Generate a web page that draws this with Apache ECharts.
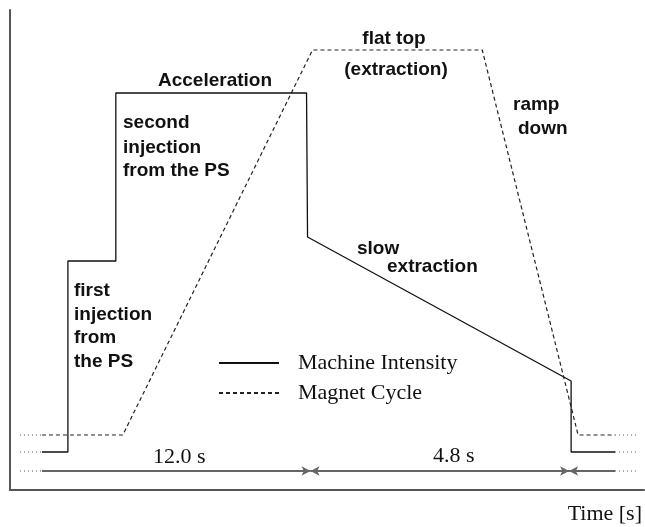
<!DOCTYPE html>
<html>
<head>
<meta charset="utf-8">
<title>SPS cycle</title>
<script src="https://cdn.jsdelivr.net/npm/echarts/dist/echarts.min.js"></script>
<style>
  html, body { margin: 0; padding: 0; background: #fff; }
  #main { width: 645px; height: 527px; }
</style>
</head>
<body>
<div id="main"></div>
<script>
// schematic units, x = time, y = level
const intensityX = [32, 58, 58, 106, 106, 297, 298, 562, 562, 606];
const intensityY = [38, 38, 229, 229, 397, 397, 253, 109, 38, 38];
const magnetX = [32, 113, 303, 473, 569, 606];
const magnetY = [55, 55, 440, 440, 55, 55];
const leadX = [10, 32];      // dotted continuation before the cycle
const trailX = [606, 628];   // dotted continuation after the cycle
const spanLevel = 19;
const spanX = [32, 301, 560, 606]; // start, 12.0 s mark, 4.8 s mark, end
const spanLabels = ['12.0 s', '4.8 s'];

const pairs = (xs, ys) => xs.map((x, i) => [x, ys[i]]);

var myChart = echarts.init(document.getElementById('main'));

const solidStyle = { color: '#111', width: 1.3, type: 'solid' };
const dashStyle = { color: '#222', width: 1.2, type: [4, 3] };
const dotStyle = { color: '#555', width: 1.2, type: [1, 3] };
const dimStyle = { color: '#666', width: 2, type: 'solid' };
const noMarker = { color: 'rgba(0,0,0,0)', borderWidth: 0 };

// dotted stubs on both sides, for the three levels
const levels = [intensityY[0], magnetY[0], spanLevel];
const dotSeries = [];
levels.forEach(function (lv) {
  [leadX, trailX].forEach(function (xs) {
    dotSeries.push({
      type: 'line', name: 'dots', silent: true, symbol: 'none',
      lineStyle: dotStyle,
      data: xs.map(x => [x, lv])
    });
  });
});

const bold = 'bold 19px "Liberation Sans", Arial, sans-serif';
const serif = '22px "Liberation Serif", "Times New Roman", serif';
function note(text, x, y, font, align) {
  return {
    type: 'text', x: x, y: y, silent: true,
    style: { text: text, font: font, fill: '#111', textAlign: align || 'left', textVerticalAlign: 'middle' }
  };
}

var option = {
  animation: false,
  grid: { left: 10, right: 0, top: 10, bottom: 37 },
  xAxis: {
    type: 'value', min: 0, max: 635,
    axisLine: { show: true, lineStyle: { color: '#555', width: 2 } },
    axisTick: { show: false }, axisLabel: { show: false }, splitLine: { show: false },
    name: 'Time [s]', nameLocation: 'end', nameGap: 0,
    nameTextStyle: {
      fontFamily: 'Liberation Serif', fontSize: 22, color: '#111',
      align: 'right', verticalAlign: 'top', padding: [13, 2, 0, 0]
    }
  },
  yAxis: {
    type: 'value', min: 0, max: 480,
    axisLine: { show: true, lineStyle: { color: '#555', width: 2 } },
    axisTick: { show: false }, axisLabel: { show: false }, splitLine: { show: false }
  },
  legend: {
    data: ['Machine Intensity', 'Magnet Cycle'],
    orient: 'vertical', left: 218, top: 351, padding: 0,
    itemWidth: 60, itemHeight: 14, itemGap: 6,
    selectedMode: false,
    itemStyle: { opacity: 0 },
    textStyle: { fontFamily: 'Liberation Serif', fontSize: 22, color: '#111', lineHeight: 24, padding: [0, 0, 0, 14] }
  },
  series: [
    {
      type: 'line', name: 'Machine Intensity', symbol: 'none', silent: true,
      lineStyle: solidStyle, itemStyle: noMarker,
      data: pairs(intensityX, intensityY)
    },
    {
      type: 'line', name: 'Magnet Cycle', symbol: 'none', silent: true,
      lineStyle: dashStyle, itemStyle: noMarker,
      data: pairs(magnetX, magnetY)
    },
    {
      type: 'line', name: 'span', symbol: 'none', silent: true, data: [],
      markLine: {
        silent: true, animation: false,
        label: { show: false },
        lineStyle: dimStyle,
        symbolSize: [7, 9],
        data: [
          [{ coord: [spanX[0], spanLevel], symbol: 'none' }, { coord: [spanX[1], spanLevel], symbol: 'arrow' }],
          [{ coord: [spanX[1], spanLevel], symbol: 'arrow' }, { coord: [spanX[2], spanLevel], symbol: 'arrow' }],
          [{ coord: [spanX[2], spanLevel], symbol: 'arrow' }, { coord: [spanX[3], spanLevel], symbol: 'none' }]
        ]
      }
    }
  ].concat(dotSeries),
  graphic: [
    note('Acceleration', 215, 81, bold, 'center'),
    note('second', 123, 123, bold),
    note('injection', 123, 148, bold),
    note('from the PS', 123, 171, bold),
    note('flat top', 394, 39, bold, 'center'),
    note('(extraction)', 396, 70, bold, 'center'),
    note('ramp', 513, 105, bold),
    note('down', 518, 129, bold),
    note('first', 74, 291, bold),
    note('injection', 74, 315, bold),
    note('from', 74, 338, bold),
    note('the PS', 74, 362, bold),
    note('slow', 357, 249, bold),
    note('extraction', 387, 267, bold),
    note(spanLabels[0], 153, 457, serif),
    note(spanLabels[1], 433, 456, serif)
  ]
};

myChart.setOption(option);
</script>
</body>
</html>
